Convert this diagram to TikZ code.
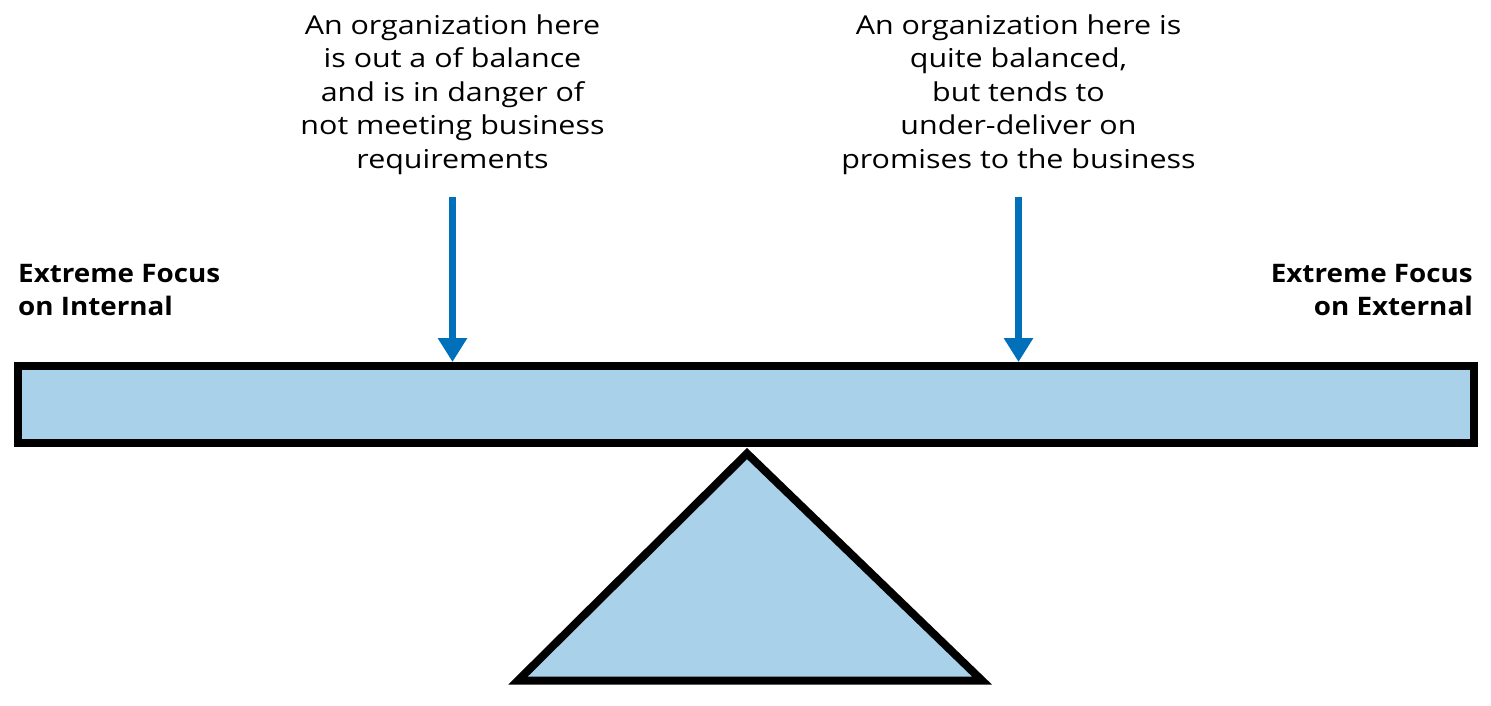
\documentclass[tikz,border=0pt]{standalone}
\usepackage{fontspec}
\setmainfont{Open Sans}
\newfontfamily\notefont[FakeStretch=1.17]{Open Sans}
\newfontfamily\sidefont[FakeStretch=1.09]{Open Sans}
\usetikzlibrary{arrows.meta}
\definecolor{beamblue}{HTML}{A9D1EA}
\definecolor{arrowblue}{HTML}{0070BA}
\tikzset{
  note/.style={align=center, inner sep=0pt, font=\notefont\fontsize{26}{33.5}\selectfont},
  side/.style={inner sep=0pt, font=\sidefont\bfseries\fontsize{25.5}{33}\selectfont},
  pointer/.style={draw=arrowblue, line width=7.7pt, -{Triangle[width=28pt,length=24pt]}},
  solid part/.style={draw=black, fill=beamblue, line width=8pt, miter limit=10}
}
\begin{document}
\begin{tikzpicture}[x=1pt,y=-1pt]
\useasboundingbox (0,0) rectangle (1491,705);
\node[solid part, rectangle, minimum width=1456pt, minimum height=77pt, inner sep=0pt, outer sep=4pt] (beam) at (746,404.5) {};
\draw[solid part] (518,680.5) -- (747,453.5) -- (982,680.5) -- cycle;
\node[note, anchor=north] (t1) at (452.5,14.5) {An organization here\\is out a of balance\\and is in danger of\\not meeting business\\requirements};
\node[note, anchor=north] (t2) at (1018.5,14.5) {An organization here is\\quite balanced,\\but tends to\\under-deliver on\\promises to the business};
\coordinate (a1s) at (452.5,197);
\coordinate (a2s) at (1018.5,197);
\draw[pointer] (a1s) -- (a1s |- beam.north);
\draw[pointer] (a2s) -- (a2s |- beam.north);
\node[side, align=left, anchor=north west] (li) at (18,264) {Extreme Focus\\on Internal};
\node[side, align=right, anchor=north east] (le) at (1473,264) {Extreme Focus\\on External};
\end{tikzpicture}
\end{document}
